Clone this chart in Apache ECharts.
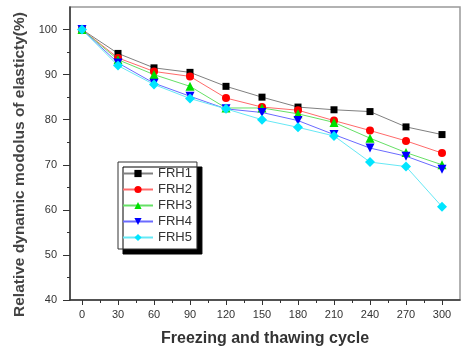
<!DOCTYPE html>
<html>
<head>
<meta charset="utf-8">
<script src="https://cdn.jsdelivr.net/npm/echarts@6/dist/echarts.min.js"></script>
<style>html,body{margin:0;padding:0;background:#fff}#c{width:461px;height:349px}</style>
</head>
<body>
<div id="c"></div>
<script>
const cycles = [0, 30, 60, 90, 120, 150, 180, 210, 240, 270, 300];
const FRH1 = [100, 94.7, 91.5, 90.5, 87.4, 85.0, 82.8, 82.2, 81.8, 78.4, 76.7];
const FRH2 = [100, 93.7, 90.7, 89.6, 84.8, 82.8, 82.1, 79.8, 77.6, 75.3, 72.6];
const FRH3 = [100, 93.3, 90.0, 87.4, 82.6, 82.6, 81.3, 79.4, 75.9, 72.7, 70.0];
const FRH4 = [100, 92.6, 88.1, 85.2, 82.4, 81.6, 79.8, 76.7, 73.7, 71.9, 69.0];
const FRH5 = [100, 92.0, 87.8, 84.7, 82.4, 80.0, 78.3, 76.4, 70.6, 69.6, 60.7];
const xMajor = [0, 30, 60, 90, 120, 150, 180, 210, 240, 270, 300];
const xMinor = [15, 45, 75, 105, 135, 165, 195, 225, 255, 285];
const yMajor = [40, 50, 60, 70, 80, 90, 100];
const yMinor = [45, 55, 65, 75, 85, 95];

const seriesDefs = [
  {name: 'FRH1', data: FRH1, color: '#000000', line: '#808080', symbol: 'rect', size: 7, rotate: 0},
  {name: 'FRH2', data: FRH2, color: '#ff0000', line: '#ff6a6a', symbol: 'circle', size: 8, rotate: 0},
  {name: 'FRH3', data: FRH3, color: '#00e000', line: '#66e066', symbol: 'triangle', size: 9, rotate: 0},
  {name: 'FRH4', data: FRH4, color: '#0000ff', line: '#6a6aff', symbol: 'triangle', size: 9, rotate: 180},
  {name: 'FRH5', data: FRH5, color: '#00e5ff', line: '#66e8f5', symbol: 'diamond', size: 10, rotate: 0}
];

const chart = echarts.init(document.getElementById('c'), null, {renderer: 'canvas'});
const axisColor = '#333';
const font = 'Liberation Sans, Arial, sans-serif';

chart.setOption({
  backgroundColor: '#fff',
  animation: false,
  grid: {left: 70, top: 7, right: 1, bottom: 49, outerBoundsMode: 'none', containLabel: false,
         show: true, borderColor: '#999', borderWidth: 1.5, backgroundColor: 'transparent'},
  legend: {
    orient: 'vertical', left: 118, top: 162,
    itemWidth: 30, itemHeight: 9, itemGap: 3,
    padding: [5, 5, 5, 4],
    backgroundColor: '#fff', borderColor: '#333', borderWidth: 1,
    shadowColor: '#000', shadowOffsetX: 5, shadowOffsetY: 5, shadowBlur: 0,
    textStyle: {fontFamily: font, fontSize: 13, color: '#333'},
    data: seriesDefs.map(s => s.name)
  },
  xAxis: [{
    type: 'value', min: -10, max: 315,
    name: 'Freezing and thawing cycle', nameLocation: 'middle', nameGap: 31,
    nameTextStyle: {fontFamily: font, fontSize: 16, fontWeight: 'bold', color: '#333'},
    axisLine: {show: true, onZero: false, lineStyle: {color: axisColor, width: 1.5}},
    axisTick: {show: true, length: 5, lineStyle: {color: axisColor}, customValues: xMajor},
    axisLabel: {fontFamily: font, fontSize: 11, color: '#333', margin: 9, customValues: xMajor},
    splitLine: {show: false}
  }, {
    type: 'value', min: -10, max: 315, position: 'bottom',
    axisLine: {show: false, onZero: false},
    axisTick: {show: true, length: 3, lineStyle: {color: axisColor}, customValues: xMinor},
    axisLabel: {show: false},
    splitLine: {show: false}
  }],
  yAxis: [{
    type: 'value', min: 40, max: 105,
    name: 'Relative dynamic modolus of elasticty(%)', nameLocation: 'middle', nameGap: 41, nameRotate: 90,
    nameTextStyle: {fontFamily: font, fontSize: 15.5, fontWeight: 'bold', color: '#444', padding: [0, 22, 0, 0]},
    axisLine: {show: true, onZero: false, lineStyle: {color: axisColor, width: 1.5}},
    axisTick: {show: true, length: 7, lineStyle: {color: axisColor}, customValues: yMajor},
    axisLabel: {fontFamily: font, fontSize: 11, color: '#333', margin: 13, customValues: yMajor},
    splitLine: {show: false}
  }, {
    type: 'value', min: 40, max: 105, position: 'left', offset: 0,
    axisLine: {show: false, onZero: false},
    axisTick: {show: true, length: 3, lineStyle: {color: axisColor}, customValues: yMinor},
    axisLabel: {show: false},
    splitLine: {show: false}
  }],
  series: seriesDefs.map(s => ({
    name: s.name, type: 'line', xAxisIndex: 0, yAxisIndex: 0,
    data: cycles.map((c, i) => [c, s.data[i]]),
    symbol: s.symbol, symbolSize: s.size, symbolRotate: s.rotate,
    itemStyle: {color: s.color},
    lineStyle: {color: s.line, width: 1},
    z: 2
  }))
});
</script>
</body>
</html>
